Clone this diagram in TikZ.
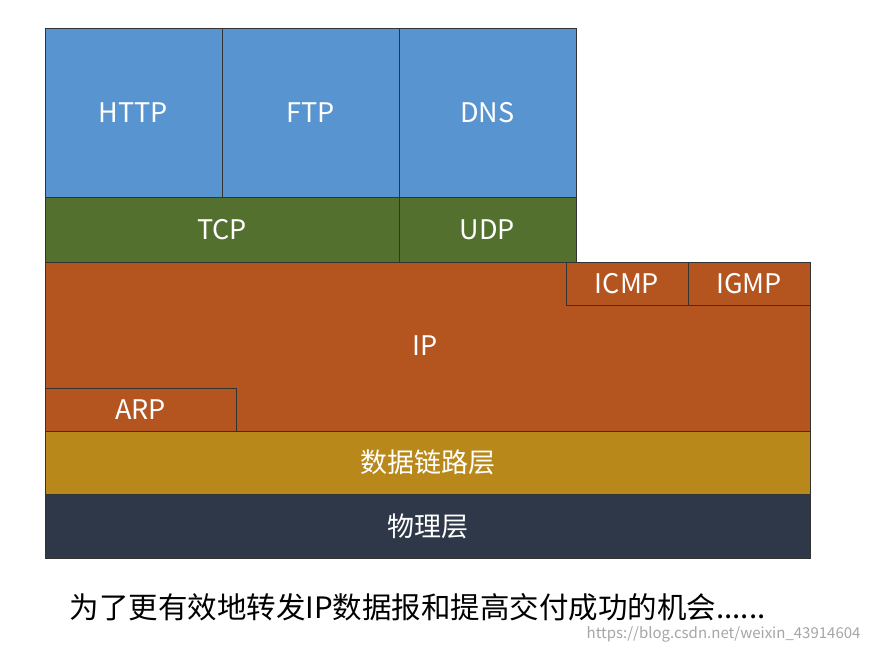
\documentclass[tikz,border=0pt]{standalone}
\usepackage{fontspec}
\setmainfont{Carlito}
\newfontfamily\cjk{Noto Sans CJK SC}
\definecolor{cblue}{HTML}{5895D0}
\definecolor{cgreen}{HTML}{54702F}
\definecolor{corange}{HTML}{B4541F}
\definecolor{cgold}{HTML}{B8891A}
\definecolor{cdark}{HTML}{2E3848}
\begin{document}
\begin{tikzpicture}[x=1pt,y=-1pt,
  blk/.style={draw=black!80,line width=0.6pt},
  lbl/.style={text=white,font=\fontsize{27}{29}\selectfont\cjk}]
\useasboundingbox[fill=white] (0,0) rectangle (871,652);
\draw[blk,fill=cblue] (45,28) rectangle (222,197) node[lbl,midway] (http) {HTTP};
\draw[blk,fill=cblue] (222,28) rectangle (399,197) node[lbl,midway] (ftp) {FTP};
\draw[blk,fill=cblue] (399,28) rectangle (576,197) node[lbl,midway] (dns) {DNS};
\draw[blk,fill=cgreen] (45,197) rectangle (399,262) node[lbl,midway] (tcp) {TCP};
\draw[blk,fill=cgreen] (399,197) rectangle (576,262) node[lbl,midway] (udp) {UDP};
\draw[blk,fill=corange] (45,262) rectangle (810,431);
\node[lbl] (ip) at (425,346) {IP};
\draw[blk,fill=corange] (566,262) rectangle (688,305) node[lbl,midway] (icmp) {ICMP};
\draw[blk,fill=corange] (688,262) rectangle (810,305) node[lbl,midway] (igmp) {IGMP};
\draw[blk,fill=corange] (45,388) rectangle (236,431) node[lbl,midway] (arp) {ARP};
\draw[blk,fill=cgold] (45,431) rectangle (810,494) node[lbl,midway] (dl) {数据链路层};
\draw[blk,fill=cdark] (45,494) rectangle (810,558) node[lbl,midway] (ph) {物理层};
\node[font=\fontsize{29.5}{31}\selectfont\cjk,anchor=west] (cap) at (66,607) {为了更有效地转发IP数据报和提高交付成功的机会......};
\node[font=\fontsize{15}{16}\selectfont\cjk,text=black!35,anchor=east] (wm) at (864,634) {https://blog.csdn.net/weixin\_43914604};
\end{tikzpicture}
\end{document}
